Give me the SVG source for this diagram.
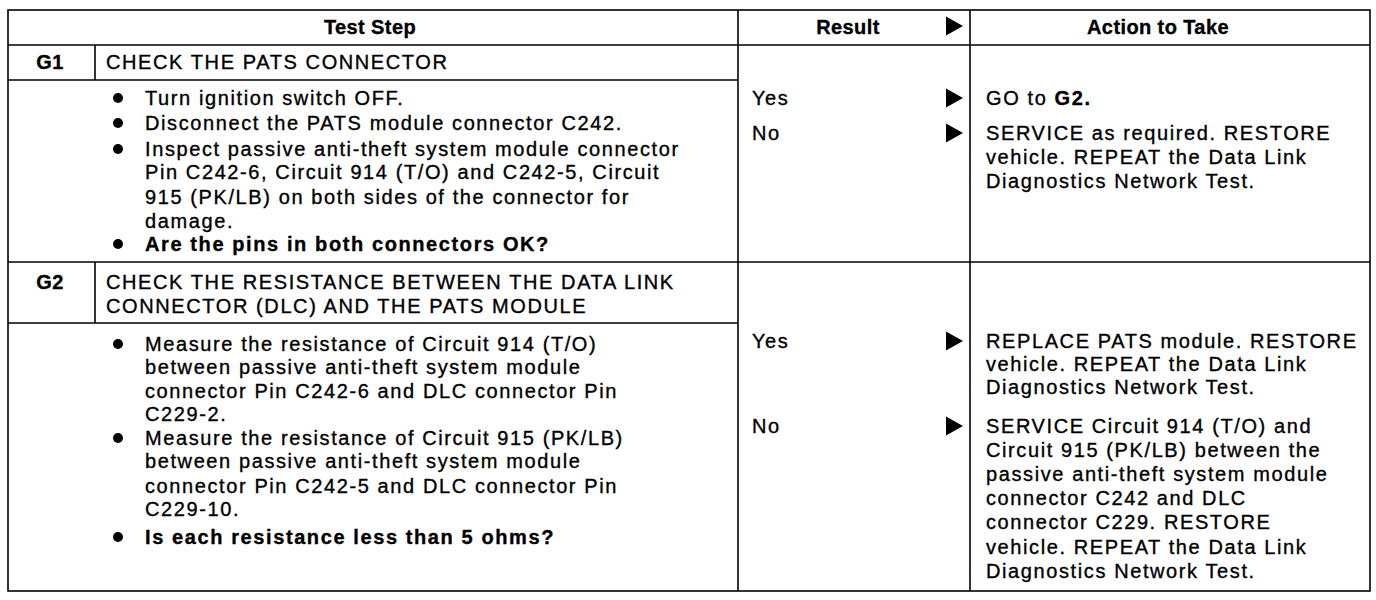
<svg xmlns="http://www.w3.org/2000/svg" width="1376" height="600" viewBox="0 0 1376 600">
<style>
.t{font-family:"Liberation Sans",Arial,sans-serif;font-size:20px;letter-spacing:1.6px;fill:#000;stroke:#000;stroke-width:0.35}
.b{font-weight:bold}
.hd{letter-spacing:0.4px}
.ln{stroke:#000;stroke-width:1.6;fill:none}
.h{text-anchor:middle}
</style>
<defs>
<polygon id="arr" points="0,-9.5 17,0 0,9.5" fill="#000"/>
</defs>
<rect width="1376" height="600" fill="#fff"/>
<g id="grid" class="ln">
<rect x="8" y="10" width="1362" height="581"/>
<line x1="8" y1="45" x2="1370" y2="45"/>
<line x1="738" y1="10" x2="738" y2="591"/>
<line x1="970" y1="10" x2="970" y2="591"/>
<line x1="8" y1="80" x2="738" y2="80"/>
<line x1="95" y1="45" x2="95" y2="80"/>
<line x1="8" y1="262" x2="1370" y2="262"/>
<line x1="8" y1="323" x2="738" y2="323"/>
<line x1="95" y1="262" x2="95" y2="323"/>
</g>
<g id="header">
<text class="t b h hd" x="370" y="34">Test Step</text>
<text class="t b h hd" x="848" y="34">Result</text>
<text class="t b h hd" x="1158" y="34">Action to Take</text>
</g>
<g id="G1">
<text class="t b h hd" x="50" y="69">G1</text>
<text class="t" x="106" y="69">CHECK THE PATS CONNECTOR</text>
<circle cx="118" cy="98" r="5"/>
<circle cx="118" cy="123" r="5"/>
<circle cx="118" cy="149" r="5"/>
<circle cx="118" cy="244" r="5"/>
<text class="t" x="145" y="105">Turn ignition switch OFF.</text>
<text class="t" x="145" y="130">Disconnect the PATS module connector C242.</text>
<text class="t" x="145" y="156">Inspect passive anti-theft system module connector</text>
<text class="t" x="145" y="179">Pin C242-6, Circuit 914 (T/O) and C242-5, Circuit</text>
<text class="t" x="145" y="204">915 (PK/LB) on both sides of the connector for</text>
<text class="t" x="145" y="228">damage.</text>
<text class="t b" x="145" y="251">Are the pins in both connectors OK?</text>
<text class="t" x="752" y="105">Yes</text>
<text class="t" x="752" y="140">No</text>
<text class="t" x="986" y="105">GO to <tspan class="b">G2.</tspan></text>
<text class="t" x="986" y="140">SERVICE as required. RESTORE</text>
<text class="t" x="986" y="164">vehicle. REPEAT the Data Link</text>
<text class="t" x="986" y="188">Diagnostics Network Test.</text>
</g>
<g id="G2">
<text class="t b h hd" x="50" y="289">G2</text>
<text class="t" x="106" y="289">CHECK THE RESISTANCE BETWEEN THE DATA LINK</text>
<text class="t" x="106" y="313">CONNECTOR (DLC) AND THE PATS MODULE</text>
<circle cx="118" cy="344" r="5"/>
<circle cx="118" cy="438" r="5"/>
<circle cx="118" cy="537" r="5"/>
<text class="t" x="145" y="351">Measure the resistance of Circuit 914 (T/O)</text>
<text class="t" x="145" y="374">between passive anti-theft system module</text>
<text class="t" x="145" y="398">connector Pin C242-6 and DLC connector Pin</text>
<text class="t" x="145" y="421">C229-2.</text>
<text class="t" x="145" y="445">Measure the resistance of Circuit 915 (PK/LB)</text>
<text class="t" x="145" y="468">between passive anti-theft system module</text>
<text class="t" x="145" y="493">connector Pin C242-5 and DLC connector Pin</text>
<text class="t" x="145" y="516">C229-10.</text>
<text class="t b" x="145" y="544">Is each resistance less than 5 ohms?</text>
<text class="t" x="752" y="348">Yes</text>
<text class="t" x="752" y="433">No</text>
<text class="t" x="986" y="348">REPLACE PATS module. RESTORE</text>
<text class="t" x="986" y="371">vehicle. REPEAT the Data Link</text>
<text class="t" x="986" y="394">Diagnostics Network Test.</text>
<text class="t" x="986" y="433">SERVICE Circuit 914 (T/O) and</text>
<text class="t" x="986" y="457">Circuit 915 (PK/LB) between the</text>
<text class="t" x="986" y="481">passive anti-theft system module</text>
<text class="t" x="986" y="505">connector C242 and DLC</text>
<text class="t" x="986" y="529">connector C229. RESTORE</text>
<text class="t" x="986" y="554">vehicle. REPEAT the Data Link</text>
<text class="t" x="986" y="578">Diagnostics Network Test.</text>
</g>
<g id="connectors">
<use href="#arr" x="946" y="26"/>
<use href="#arr" x="946" y="98"/>
<use href="#arr" x="946" y="133"/>
<use href="#arr" x="946" y="341"/>
<use href="#arr" x="946" y="426"/>
</g>
</svg>
